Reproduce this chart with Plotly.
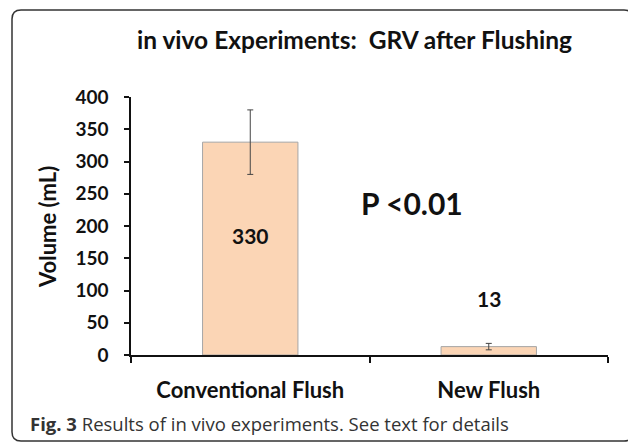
import plotly.graph_objects as go

categories = ["Conventional Flush", "New Flush"]
values = [330, 13]
errors = [50, 5]
value_labels = ["330", "13"]
y_ticks = [0, 50, 100, 150, 200, 250, 300, 350, 400]

# page is offset by the browser's 8px body margin; compensate
OFF = 8
W, H = 636 - OFF, 442 - OFF
ml, mr, mt, mb = 131 - OFF, 28, 97 - OFF, 87
pw, ph = W - ml - mr, H - mt - mb

def px2paper(x, y):
    x -= OFF
    y -= OFF
    return (x - ml) / pw, (H - y - mb) / ph

fig = go.Figure()
fig.add_trace(go.Bar(
    x=categories, y=values,
    marker=dict(color="#FBD5B5", line=dict(color="#A6A6A6", width=1)),
    error_y=dict(type="data", array=errors, color="#444444", thickness=1, width=3),
    width=0.4,
))

# rounded border
x0, y0 = px2paper(12, 441)
x1, y1 = px2paper(633, 10)
rx, ry = 9 / pw, 9 / ph
path = (f"M {x0+rx},{y0} L {x1-rx},{y0} Q {x1},{y0} {x1},{y0+ry} "
        f"L {x1},{y1-ry} Q {x1},{y1} {x1-rx},{y1} L {x0+rx},{y1} "
        f"Q {x0},{y1} {x0},{y1-ry} L {x0},{y0+ry} Q {x0},{y0} {x0+rx},{y0} Z")
fig.add_shape(type="path", path=path, xref="paper", yref="paper",
              line=dict(color="#333333", width=1.5))

font = "Lato"
B = "bold"
ann = []
tx, ty = px2paper(354, 39)
ann.append(dict(x=tx, y=ty, xref="paper", yref="paper", text="in vivo Experiments:  GRV after Flushing",
                showarrow=False, font=dict(size=24.5, color="#111", weight=B), xanchor="center", yanchor="middle"))
vx, vy = px2paper(47, 227)
ann.append(dict(x=vx, y=vy, xref="paper", yref="paper", text="Volume (mL)", textangle=-90,
                showarrow=False, font=dict(size=22, color="#111", weight=B), xanchor="center", yanchor="middle"))
label_y = [185, 87]
for c, t, yy in zip(categories, value_labels, label_y):
    ann.append(dict(x=c, y=yy, xref="x", yref="y", text=t, showarrow=False,
                    font=dict(size=21, color="#111", weight=B), xanchor="center", yanchor="middle"))
px_, py_ = px2paper(412, 203)
ann.append(dict(x=px_, y=py_, xref="paper", yref="paper", text="P <0.01", showarrow=False,
                font=dict(size=30, color="#111", weight=B), xanchor="center", yanchor="middle"))
cx, cy = px2paper(28, 423)
ann.append(dict(x=cx, y=cy, xref="paper", yref="paper",
                text="<b>Fig. 3</b> Results of in vivo experiments. See text for details", showarrow=False,
                font=dict(size=18.5, color="#333", family="Open Sans"), xanchor="left", yanchor="middle"))

fig.update_layout(
    width=W, height=H, margin=dict(l=ml, r=mr, t=mt, b=mb, autoexpand=False),
    paper_bgcolor="white", plot_bgcolor="white", showlegend=False,
    font=dict(family=font, color="#111"),
    bargap=0.6, annotations=ann,
    xaxis=dict(showline=True, linecolor="#111", linewidth=1.5, ticks="outside", tickson="boundaries",
               ticklen=6, tickwidth=1.5, tickcolor="#111", showgrid=False,
               tickfont=dict(size=22, color="#111", weight=B), ticklabelstandoff=15),
    yaxis=dict(range=[0, 400], tickvals=y_ticks, showline=True, linecolor="#111", linewidth=1.5,
               ticks="outside", ticklen=5, tickwidth=1.5, tickcolor="#111", showgrid=False, zeroline=False,
               tickfont=dict(size=19, color="#111", weight=B), ticklabelstandoff=12),
)
fig.write_html("out.html")
